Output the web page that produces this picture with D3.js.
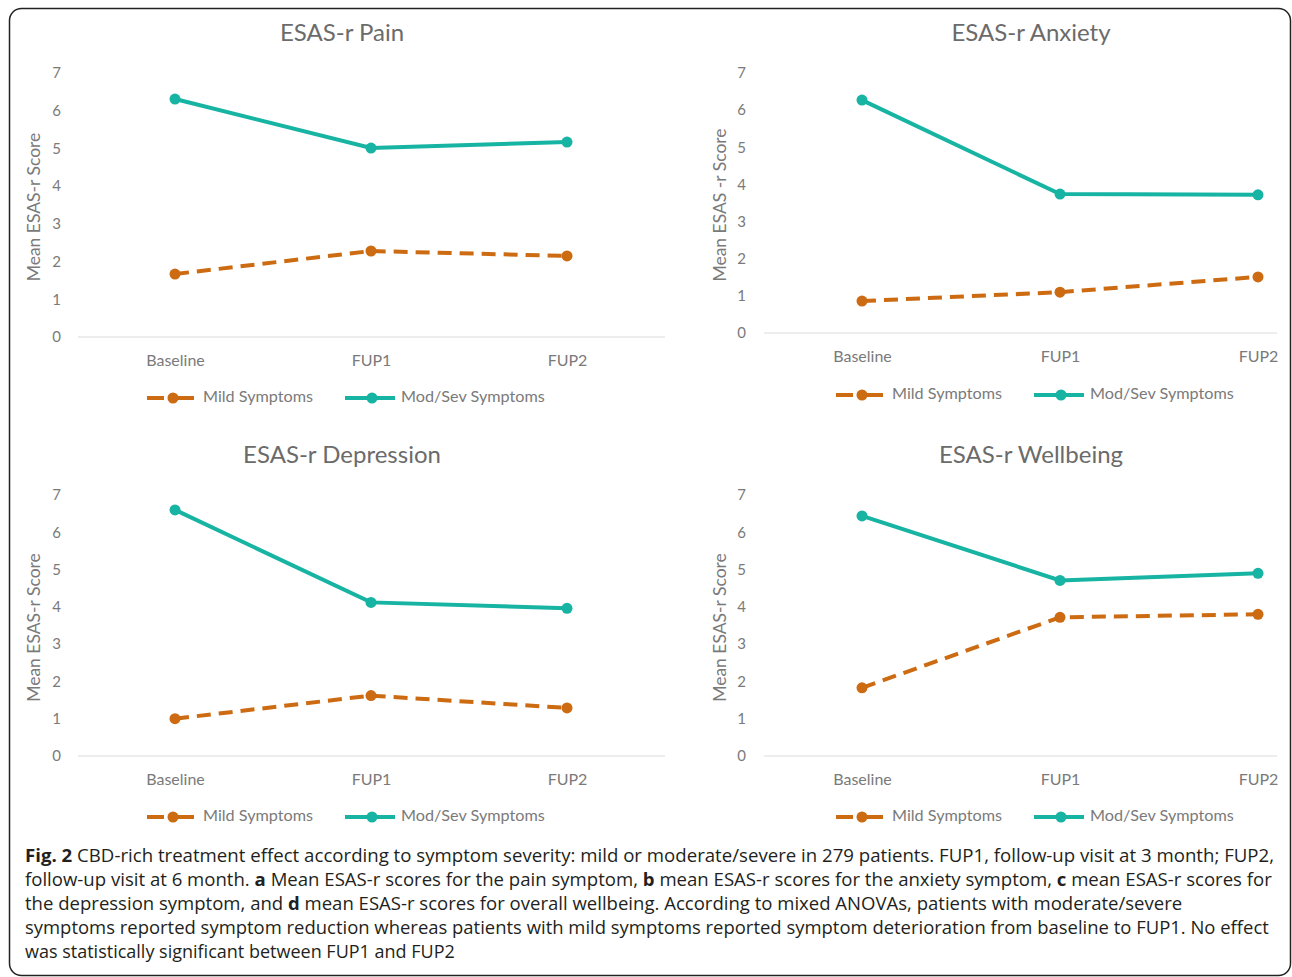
<!DOCTYPE html>
<html><head><meta charset="utf-8">
<script src="https://cdn.jsdelivr.net/npm/d3@7"></script>
<style>
html,body{margin:0;padding:0;background:#fff;}
svg{display:block;}
</style></head>
<body>
<svg id="c" width="1292" height="977"></svg>
<script>
// ---- data ----
const categories = ["Baseline", "FUP1", "FUP2"];
const yTicks = [0, 1, 2, 3, 4, 5, 6, 7];
const seriesNames = ["Mild Symptoms", "Mod/Sev Symptoms"];
const panelTitles = ["ESAS-r Pain", "ESAS-r Anxiety", "ESAS-r Depression", "ESAS-r Wellbeing"];
const yTitles = ["Mean ESAS-r Score", "Mean ESAS -r Score", "Mean ESAS-r Score", "Mean ESAS-r Score"];
const painMild = [1.67, 2.28, 2.15];
const painModSev = [6.31, 5.01, 5.17];
const anxietyMild = [0.86, 1.10, 1.51];
const anxietyModSev = [6.27, 3.74, 3.72];
const depressionMild = [1.00, 1.62, 1.29];
const depressionModSev = [6.60, 4.12, 3.96];
const wellbeingMild = [1.83, 3.72, 3.80];
const wellbeingModSev = [6.44, 4.71, 4.90];

const captionLines = [
  [["b","Fig. 2"],["n"," CBD-rich treatment effect according to symptom severity: mild or moderate/severe in 279 patients. FUP1, follow-up visit at 3 month; FUP2,"]],
  [["n","follow-up visit at 6 month. "],["b","a"],["n"," Mean ESAS-r scores for the pain symptom, "],["b","b"],["n"," mean ESAS-r scores for the anxiety symptom, "],["b","c"],["n"," mean ESAS-r scores for"]],
  [["n","the depression symptom, and "],["b","d"],["n"," mean ESAS-r scores for overall wellbeing. According to mixed ANOVAs, patients with moderate/severe"]],
  [["n","symptoms reported symptom reduction whereas patients with mild symptoms reported symptom deterioration from baseline to FUP1. No effect"]],
  [["n","was statistically significant between FUP1 and FUP2"]]
];

// ---- styles / layout ----
const ORANGE = "#CC6B12";
const TEAL = "#17B3A3";
const FONT = "Lato, 'Open Sans', sans-serif";
const CAPFONT = "'Open Sans', sans-serif";
const svg = d3.select("#c");

svg.append("rect").attr("x", 9.5).attr("y", 8.5).attr("width", 1281).attr("height", 967)
  .attr("rx", 12).attr("fill", "none").attr("stroke", "#222").attr("stroke-width", 1.5);

const layouts = [
  {mild: painMild, mod: painModSev, cx: [175, 567], axisX: [78, 665], y0: 337, y7: 73, titleX: 342, titleY: 35, ytX: 36, tickX: 61, xlabY: 360, legY: 398, legX: 147},
  {mild: anxietyMild, mod: anxietyModSev, cx: [862, 1258], axisX: [764, 1277], y0: 333, y7: 73, titleX: 1031, titleY: 35, ytX: 722, tickX: 746, xlabY: 356, legY: 395, legX: 836},
  {mild: depressionMild, mod: depressionModSev, cx: [175, 567], axisX: [78, 665], y0: 756, y7: 495, titleX: 342, titleY: 457, ytX: 36, tickX: 61, xlabY: 779, legY: 817, legX: 147},
  {mild: wellbeingMild, mod: wellbeingModSev, cx: [862, 1258], axisX: [764, 1277], y0: 756, y7: 495, titleX: 1031, titleY: 457, ytX: 722, tickX: 746, xlabY: 779, legY: 817, legX: 836}
];

layouts.forEach((L, i) => {
  const g = svg.append("g");
  const x = d3.scalePoint().domain(categories).range(L.cx);
  const y = d3.scaleLinear().domain([0, 7]).range([L.y0, L.y7]);

  // title
  g.append("text").attr("x", L.titleX).attr("y", L.titleY).attr("text-anchor", "middle")
    .attr("dominant-baseline", "middle").attr("font-family", FONT).attr("font-size", 24)
    .attr("fill", "#6b6b6b").text(panelTitles[i]);

  // y title
  g.append("text").attr("transform", `translate(${L.ytX},${(L.y0 + L.y7) / 2 + 2}) rotate(-90)`)
    .attr("text-anchor", "middle").attr("dominant-baseline", "middle")
    .attr("font-family", FONT).attr("font-size", 17.5).attr("fill", "#7a7a7a").text(yTitles[i]);

  // y axis labels
  const yAxis = d3.axisLeft(y).tickValues(yTicks).tickSize(0).tickPadding(0).tickFormat(d3.format("d"));
  const ya = g.append("g").attr("transform", `translate(${L.tickX},0)`).call(yAxis);
  ya.select(".domain").remove();
  ya.selectAll("text").attr("font-family", FONT).attr("font-size", 15).attr("fill", "#7a7a7a");

  // baseline axis line
  g.append("line").attr("x1", L.axisX[0]).attr("x2", L.axisX[1]).attr("y1", y(0)).attr("y2", y(0))
    .attr("stroke", "#dcdcdc").attr("stroke-width", 1.2);

  // x labels
  const xAxis = d3.axisBottom(x).tickSize(0).tickPadding(0);
  const xa = g.append("g").attr("transform", `translate(0,${L.xlabY})`).call(xAxis);
  xa.select(".domain").remove();
  xa.selectAll("text").attr("font-family", FONT).attr("font-size", 16).attr("fill", "#7a7a7a")
    .attr("dy", "0.35em");

  const line = d3.line().x((d, j) => x(categories[j])).y(d => y(d));

  // mild (dashed)
  g.append("path").datum(L.mild).attr("d", line).attr("fill", "none").attr("stroke", ORANGE)
    .attr("stroke-width", 4).attr("stroke-dasharray", "14 8");
  g.selectAll(".m1").data(L.mild).enter().append("circle")
    .attr("cx", (d, j) => x(categories[j])).attr("cy", d => y(d)).attr("r", 5.5).attr("fill", ORANGE);

  // mod/sev (solid)
  g.append("path").datum(L.mod).attr("d", line).attr("fill", "none").attr("stroke", TEAL)
    .attr("stroke-width", 4);
  g.selectAll(".m2").data(L.mod).enter().append("circle")
    .attr("cx", (d, j) => x(categories[j])).attr("cy", d => y(d)).attr("r", 5.5).attr("fill", TEAL);

  // legend
  const lg = g.append("g").attr("transform", `translate(${L.legX},${L.legY})`);
  lg.append("line").attr("x1", 0).attr("x2", 17).attr("y1", 0).attr("y2", 0).attr("stroke", ORANGE).attr("stroke-width", 4);
  lg.append("line").attr("x1", 30).attr("x2", 47).attr("y1", 0).attr("y2", 0).attr("stroke", ORANGE).attr("stroke-width", 4);
  lg.append("circle").attr("cx", 26).attr("cy", 0).attr("r", 5.5).attr("fill", ORANGE);
  lg.append("text").attr("x", 56).attr("y", 0).attr("dominant-baseline", "middle")
    .attr("font-family", FONT).attr("font-size", 16.2).attr("fill", "#7a7a7a").text(seriesNames[0]);
  lg.append("line").attr("x1", 198).attr("x2", 248).attr("y1", 0).attr("y2", 0).attr("stroke", TEAL).attr("stroke-width", 4);
  lg.append("circle").attr("cx", 225).attr("cy", 0).attr("r", 5.5).attr("fill", TEAL);
  lg.append("text").attr("x", 254).attr("y", 0).attr("dominant-baseline", "middle")
    .attr("font-family", FONT).attr("font-size", 16.2).attr("fill", "#7a7a7a").text(seriesNames[1]);
});

// caption
const capY = [857, 881, 905, 929, 953];
const capWidth = [1250, 1248, 1158, 1245, null];
captionLines.forEach((parts, i) => {
  const g = svg.append("g");
  const t = g.append("text").attr("x", 0).attr("y", 0).attr("dominant-baseline", "middle")
    .attr("font-family", CAPFONT).attr("font-size", 18).attr("fill", "#231f20");
  parts.forEach(p => {
    t.append("tspan").attr("font-weight", p[0] === "b" ? "bold" : "normal").text(p[1]);
  });
  const w = t.node().getComputedTextLength();
  const k = capWidth[i] ? capWidth[i] / w : 1;
  g.attr("transform", `translate(25,${capY[i]}) scale(${k},1)`);
});
</script>
</body></html>
